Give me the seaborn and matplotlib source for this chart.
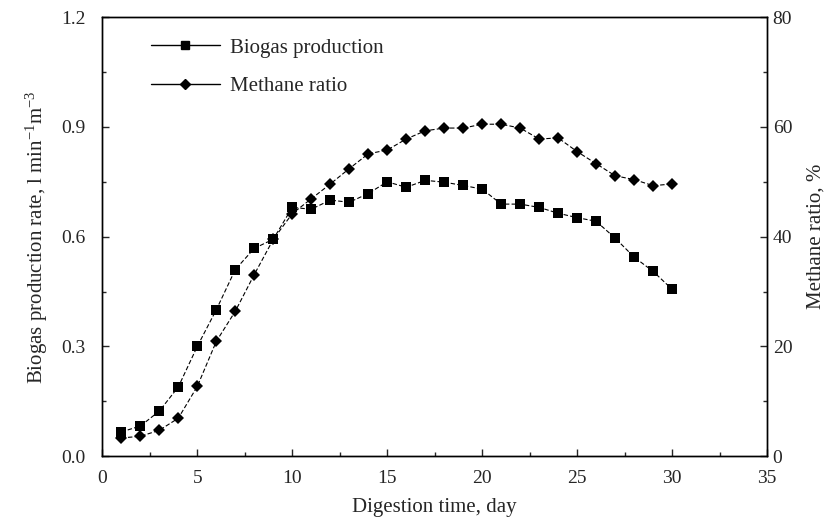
import matplotlib
matplotlib.use('Agg')
import matplotlib.pyplot as plt
from matplotlib.lines import Line2D
from matplotlib.ticker import MultipleLocator
import seaborn as sns
import pandas as pd

days = list(range(1, 31))
biogas = [0.066, 0.082, 0.123, 0.189, 0.30, 0.40, 0.51, 0.568, 0.593, 0.68,
          0.675, 0.70, 0.694, 0.718, 0.75, 0.735, 0.754, 0.749, 0.74, 0.73,
          0.689, 0.689, 0.68, 0.664, 0.652, 0.642, 0.596, 0.544, 0.505, 0.456]
methane = [3.3, 3.6, 4.7, 6.9, 12.7, 20.9, 26.4, 33.1, 39.5, 44.2,
           46.9, 49.6, 52.4, 55.1, 55.8, 57.8, 59.3, 59.8, 59.8, 60.5,
           60.5, 59.8, 57.8, 58.0, 55.5, 53.3, 51.1, 50.4, 49.3, 49.6]

df = pd.DataFrame({'day': days, 'biogas': biogas, 'methane': methane})

sns.set_style('ticks')
plt.rcParams['font.family'] = ['Liberation Serif', 'DejaVu Serif']
plt.rcParams['mathtext.fontset'] = 'custom'
plt.rcParams['mathtext.rm'] = 'Liberation Serif'
plt.rcParams['mathtext.it'] = 'Liberation Serif'

fig = plt.figure(figsize=(8.32, 5.23), dpi=100)
ax = fig.add_axes([0.123, 0.128, 0.799, 0.839])
ax2 = ax.twinx()

sns.lineplot(data=df, x='day', y='biogas', ax=ax, color='black', marker='s',
             markersize=7.5, markeredgewidth=0, linewidth=0.8,
             linestyle=(0, (4, 2)))
sns.lineplot(data=df, x='day', y='methane', ax=ax2, color='black', marker='D',
             markersize=6, markeredgewidth=0, linewidth=0.8,
             linestyle=(0, (4, 2)))

ax.set_xlim(0, 35)
ax.set_ylim(0, 1.2)
ax2.set_ylim(0, 80)
ax.xaxis.set_major_locator(MultipleLocator(5))
ax.xaxis.set_minor_locator(MultipleLocator(2.5))
ax.yaxis.set_major_locator(MultipleLocator(0.3))
ax.yaxis.set_minor_locator(MultipleLocator(0.15))
ax2.yaxis.set_major_locator(MultipleLocator(20))
ax2.yaxis.set_minor_locator(MultipleLocator(10))
ax.yaxis.set_major_formatter(plt.FormatStrFormatter('%.1f'))

for a in (ax, ax2):
    a.tick_params(which='both', direction='in', labelsize=14, width=1)
    a.tick_params(which='major', length=5)
    a.tick_params(which='minor', length=3)
    for s in a.spines.values():
        s.set_linewidth(1)
        s.set_color('black')
ax.tick_params(axis='y', which='both', right=False, pad=12)
ax.tick_params(axis='x', which='both', top=False, pad=10)
ax2.tick_params(axis='y', which='both', left=False, pad=4)

ax.set_xlabel('Digestion time, day', fontsize=15, labelpad=8)
ax.set_ylabel('Biogas production rate, l min$^{\\mathregular{-1}}$m$^{\\mathregular{-3}}$',
              fontsize=15, labelpad=8)
ax2.set_ylabel('Methane ratio, %', fontsize=15, labelpad=10)

handles = [Line2D([], [], color='black', lw=1, marker='s', markersize=6),
           Line2D([], [], color='black', lw=1, marker='D', markersize=5)]
ax.legend(handles, ['Biogas production', 'Methane ratio'], loc='upper left',
          bbox_to_anchor=(0.045, 0.995), frameon=False, fontsize=15,
          handlelength=3.3, labelspacing=0.9, handletextpad=0.5)

plt.savefig('out.png', dpi=100)
plt.close()
